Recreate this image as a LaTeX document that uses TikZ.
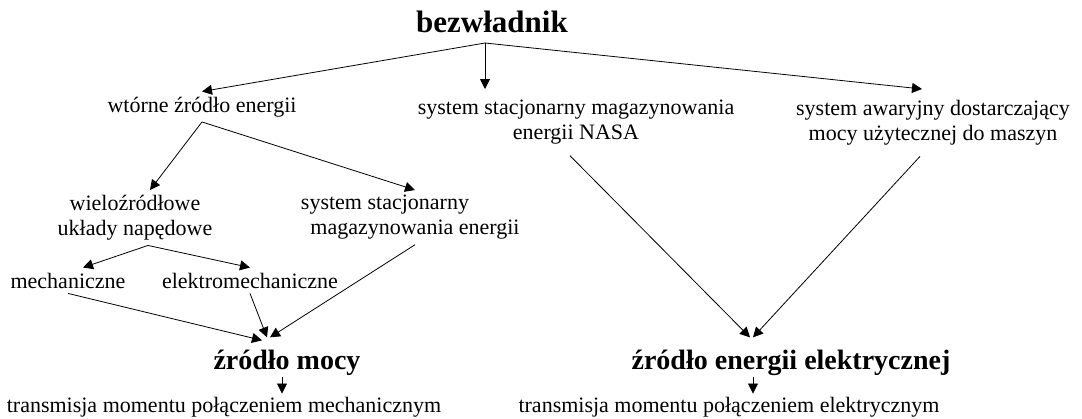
\documentclass[tikz,border=0pt]{standalone}
\usepackage{fontspec}
\setmainfont{Liberation Serif}
\usepackage{tikz}
\usetikzlibrary{arrows.meta}

\begin{document}
\begin{tikzpicture}[x=1pt, y=1pt,
  mytext/.style={inner sep=5pt, align=center, font=\fontsize{22}{25}\selectfont},
  mybold/.style={inner sep=2pt, font=\fontsize{28}{32}\selectfont\bfseries},
  myarrow/.style={-{Triangle[length=10pt,width=10pt]}, line width=0.8pt}]
\useasboundingbox (0,0) rectangle (1082,-418);

%top
  \node[mybold, font=\fontsize{31}{36}\selectfont\bfseries, anchor=base] (bez) at (492,-32) {bezwładnik};
  \coordinate (bezJ) at (485,-43);

%second row
  \node[mytext, anchor=base] (wt) at (202,-112) {wtórne źródło energii};
  \node[mytext, anchor=north, inner ysep=11pt] (nasa) at (576,-89) {system stacjonarny magazynowania\\energii NASA};
  \node[mytext, anchor=north, inner ysep=11pt] (awar) at (933,-89) {system awaryjny dostarczający\\mocy użytecznej do maszyn};

%third row
  \node[mytext, anchor=north] (wiel) at (135,-190) {wieloźródłowe\\układy napędowe};
  \node[mytext, anchor=north] (stac) at (415,-190) {system stacjonarny\hspace*{60pt}\\magazynowania energii};

%fourth row
  \node[mytext, anchor=base] (mech) at (68,-288) {mechaniczne};
  \node[mytext, anchor=base] (elek) at (250,-288) {elektromechaniczne};

%sources
  \node[mybold, anchor=base] (zm) at (287,-369) {źródło mocy};
  \node[mybold, anchor=base] (ze) at (791,-369) {źródło energii elektrycznej};

%bottom
  \node[mytext, inner sep=3pt, anchor=base] (tr1) at (224,-412) {transmisja momentu połączeniem mechanicznym};
  \node[mytext, inner sep=3pt, anchor=base] (tr2) at (729,-412) {transmisja momentu połączeniem elektrycznym};

%arrows
  \draw[myarrow] (bezJ) -- (wt.north);
  \draw[myarrow] (bezJ) -- (bezJ |- nasa.north);
  \draw[myarrow] (bezJ) -- ([xshift=-11pt]awar.north);
  \draw[myarrow] (wt.south) -- ([xshift=15pt]wiel.north);
  \draw[myarrow] (wt.south) -- (stac.north);
  \draw[myarrow] ([xshift=13pt]wiel.south) -- ([xshift=15pt]mech.north);
  \draw[myarrow] ([xshift=13pt]wiel.south) -- (elek.north);
  \draw[myarrow] (mech.south) -- ([xshift=-25pt,yshift=7pt]zm.north);
  \draw[myarrow] (elek.south) -- ([xshift=-20pt,yshift=10pt]zm.north);
  \draw[myarrow] (stac.south) -- ([xshift=-17pt,yshift=10pt]zm.north);
  \draw[myarrow] ([xshift=-6pt]nasa.south) -- ([xshift=-41pt,yshift=10pt]ze.north);
  \draw[myarrow] ([xshift=-13pt]awar.south) -- ([xshift=-38pt,yshift=10pt]ze.north);
  \draw[myarrow] ([xshift=-5pt]zm.south) -- ([xshift=-5pt]zm.south |- tr1.north);
  \draw[myarrow] ([xshift=-38pt]ze.south) -- ([xshift=-38pt]ze.south |- tr2.north);
\end{tikzpicture}
\end{document}
